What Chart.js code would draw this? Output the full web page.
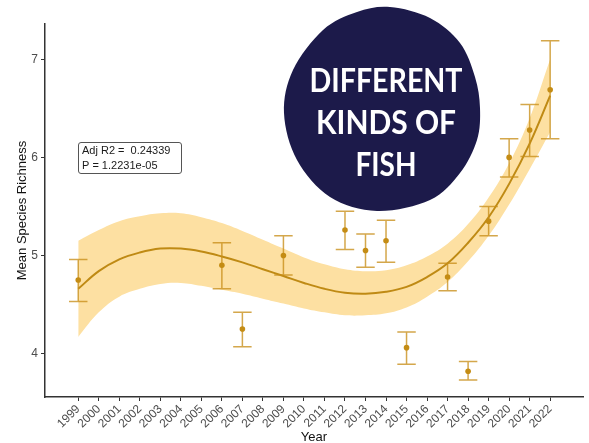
<!DOCTYPE html>
<html>
<head>
<meta charset="utf-8">
<script src="https://cdn.jsdelivr.net/npm/chart.js@4/dist/chart.umd.min.js"></script>
<style>
  html, body { margin: 0; padding: 0; background: #ffffff; }
  #c { display: block; }
</style>
</head>
<body>
<canvas id="c" width="589" height="443"></canvas>
<script>
// Survey years and the cubic trend fitted to them, with its confidence band
const years = [1999, 2000, 2001, 2002, 2003, 2004, 2005, 2006, 2007, 2008, 2009, 2010,
               2011, 2012, 2013, 2014, 2015, 2016, 2017, 2018, 2019, 2020, 2021, 2022];
const trendFit = [4.66, 4.84, 4.96, 5.03, 5.07, 5.07, 5.04, 4.99, 4.93, 4.86, 4.79, 4.72,
                  4.66, 4.62, 4.61, 4.63, 4.68, 4.78, 4.92, 5.13, 5.39, 5.73, 6.14, 6.63];
const trendLower = [4.17, 4.42, 4.58, 4.66, 4.71, 4.72, 4.69, 4.65, 4.61, 4.56, 4.51, 4.46,
                    4.42, 4.39, 4.39, 4.41, 4.47, 4.58, 4.73, 4.94, 5.20, 5.52, 5.88, 6.26];
const trendUpper = [5.15, 5.26, 5.35, 5.40, 5.43, 5.43, 5.39, 5.33, 5.25, 5.16, 5.07, 4.98,
                    4.91, 4.86, 4.84, 4.85, 4.90, 4.99, 5.12, 5.32, 5.59, 5.94, 6.40, 7.00];

// Yearly mean species richness with error bars
const sampleYears  = [1999, 2006, 2007, 2009, 2012, 2013, 2014, 2015, 2017, 2018, 2019, 2020, 2021, 2022];
const meanRichness = [4.75, 4.90, 4.25, 5.00, 5.26, 5.05, 5.15, 4.06, 4.78, 3.82, 5.35, 6.00, 6.28, 6.69];
const barLow       = [4.53, 4.66, 4.07, 4.80, 5.06, 4.88, 4.93, 3.89, 4.64, 3.73, 5.20, 5.80, 6.01, 6.19];
const barHigh      = [4.96, 5.13, 4.42, 5.20, 5.45, 5.22, 5.36, 4.22, 4.92, 3.92, 5.50, 6.19, 6.54, 7.19];

const yTicks = [4, 5, 6, 7];
const statLines = ['Adj R2 =  0.24339', 'P = 1.2231e-05'];
const badgeLines = ['DIFFERENT', 'KINDS OF', 'FISH'];
const xTitle = 'Year';
const yTitle = 'Mean Species Richness';

const GOLD = '#bf8a14';
const BAR_GOLD = 'rgba(200, 142, 24, 0.78)';
const BAND = '#fde0a2';
const AXIS = '#333333';
const BASE_FONT = '"Liberation Sans", Arial, sans-serif';

const toPts = (xs, ys) => xs.map((x, i) => ({ x: x, y: ys[i] }));

// Error bars drawn right after the trend line, beneath the mean points
const errorBars = {
  id: 'errorBars',
  afterDatasetDraw(chart, args) {
    if (args.index !== 2) return;
    const { ctx, scales: { x, y } } = chart;
    ctx.save();
    ctx.strokeStyle = BAR_GOLD;
    ctx.lineWidth = 1.5;
    sampleYears.forEach((yr, i) => {
      const px = x.getPixelForValue(yr);
      const top = y.getPixelForValue(barHigh[i]);
      const bot = y.getPixelForValue(barLow[i]);
      const half = x.getPixelForValue(yr + 0.45) - px;
      ctx.beginPath();
      ctx.moveTo(px, top); ctx.lineTo(px, bot);
      ctx.moveTo(px - half, top); ctx.lineTo(px + half, top);
      ctx.moveTo(px - half, bot); ctx.lineTo(px + half, bot);
      ctx.stroke();
    });
    ctx.restore();
  }
};

// Axis titles, the model statistics box and the headline badge
const decorations = {
  id: 'decorations',
  afterDraw(chart) {
    const { ctx, chartArea: a } = chart;
    ctx.save();

    // axis titles
    ctx.fillStyle = '#111111';
    ctx.font = '13px ' + BASE_FONT;
    ctx.textAlign = 'center';
    ctx.textBaseline = 'middle';
    ctx.fillText(xTitle, (a.left + a.right) / 2, 437);
    ctx.save();
    ctx.translate(22, (a.top + a.bottom) / 2);
    ctx.rotate(-Math.PI / 2);
    ctx.fillText(yTitle, 0, 0);
    ctx.restore();

    // statistics label
    const bx = 78.5, by = 142.5, bw = 103, bh = 31, r = 2.5;
    ctx.beginPath();
    ctx.moveTo(bx + r, by);
    ctx.arcTo(bx + bw, by, bx + bw, by + bh, r);
    ctx.arcTo(bx + bw, by + bh, bx, by + bh, r);
    ctx.arcTo(bx, by + bh, bx, by, r);
    ctx.arcTo(bx, by, bx + bw, by, r);
    ctx.closePath();
    ctx.fillStyle = '#ffffff';
    ctx.fill();
    ctx.strokeStyle = '#555555';
    ctx.lineWidth = 1;
    ctx.stroke();
    ctx.fillStyle = '#1a1a1a';
    ctx.font = '11px ' + BASE_FONT;
    ctx.textAlign = 'left';
    ctx.textBaseline = 'alphabetic';
    ctx.fillText(statLines[0], 82, 154);
    ctx.fillText(statLines[1], 82, 169);

    // badge: irregular rounded blob
    const outline = [[390, 7], [430, 18], [460, 43], [475, 77], [480, 108], [477, 140],
                     [460, 173], [430, 200], [377, 211], [330, 197], [297, 160],
                     [284, 113], [293, 70], [323, 30], [357, 12]];
    const n = outline.length;
    ctx.beginPath();
    ctx.moveTo(outline[0][0], outline[0][1]);
    for (let i = 0; i < n; i++) {
      const p0 = outline[(i - 1 + n) % n], p1 = outline[i];
      const p2 = outline[(i + 1) % n], p3 = outline[(i + 2) % n];
      ctx.bezierCurveTo(
        p1[0] + (p2[0] - p0[0]) / 6, p1[1] + (p2[1] - p0[1]) / 6,
        p2[0] - (p3[0] - p1[0]) / 6, p2[1] - (p3[1] - p1[1]) / 6,
        p2[0], p2[1]);
    }
    ctx.closePath();
    ctx.fillStyle = '#1c1a4a';
    ctx.fill();

    ctx.fillStyle = '#ffffff';
    ctx.font = 'bold 32px Lato, "Open Sans", sans-serif';
    ctx.textAlign = 'center';
    ctx.textBaseline = 'alphabetic';
    const widths = [153, 140, 61];
    const baselines = [92, 134, 176];
    badgeLines.forEach((t, i) => {
      const w = ctx.measureText(t).width;
      ctx.save();
      ctx.translate(386, baselines[i]);
      ctx.scale(widths[i] / w, 1);
      ctx.fillText(t, 0, 0);
      ctx.restore();
    });

    ctx.restore();
  }
};

new Chart(document.getElementById('c'), {
  type: 'line',
  data: {
    datasets: [
      {
        label: 'upper',
        data: toPts(years, trendUpper),
        borderWidth: 0,
        pointRadius: 0,
        tension: 0.4,
        fill: '+1',
        backgroundColor: BAND,
        order: 4
      },
      {
        label: 'lower',
        data: toPts(years, trendLower),
        borderWidth: 0,
        pointRadius: 0,
        tension: 0.4,
        fill: false,
        order: 3
      },
      {
        label: 'fit',
        data: toPts(years, trendFit),
        borderColor: GOLD,
        borderWidth: 2,
        pointRadius: 0,
        tension: 0.4,
        fill: false,
        order: 2
      },
      {
        type: 'scatter',
        label: 'mean',
        data: toPts(sampleYears, meanRichness),
        pointRadius: 2.8,
        pointBackgroundColor: '#c48c14',
        pointBorderWidth: 0,
        order: 1
      }
    ]
  },
  options: {
    responsive: false,
    animation: false,
    devicePixelRatio: 1,
    layout: { padding: { top: 24, right: 6, left: 0, bottom: 0 } },
    plugins: { legend: { display: false }, tooltip: { enabled: false } },
    scales: {
      x: {
        type: 'linear',
        min: 1997.38,
        max: 2023.6,
        afterBuildTicks: s => { s.ticks = years.map(v => ({ value: v })); },
        afterFit: s => { s.height = 46; },
        grid: { drawOnChartArea: false, drawTicks: true, tickLength: 4, color: AXIS },
        border: { display: true, color: AXIS, width: 1.5 },
        ticks: {
          autoSkip: false, minRotation: 45, maxRotation: 45, padding: 1,
          color: '#4d4d4d', font: { size: 12, family: BASE_FONT },
          callback: v => String(v)
        }
      },
      y: {
        type: 'linear',
        min: 3.557,
        max: 7.36,
        afterBuildTicks: s => { s.ticks = yTicks.map(v => ({ value: v })); },
        afterFit: s => { s.width = 45; },
        grid: { drawOnChartArea: false, drawTicks: true, tickLength: 4, color: AXIS },
        border: { display: true, color: AXIS, width: 1.5 },
        ticks: {
          padding: 3, color: '#4d4d4d', font: { size: 12, family: BASE_FONT },
          callback: v => String(v)
        }
      }
    }
  },
  plugins: [errorBars, decorations]
});
</script>
</body>
</html>
